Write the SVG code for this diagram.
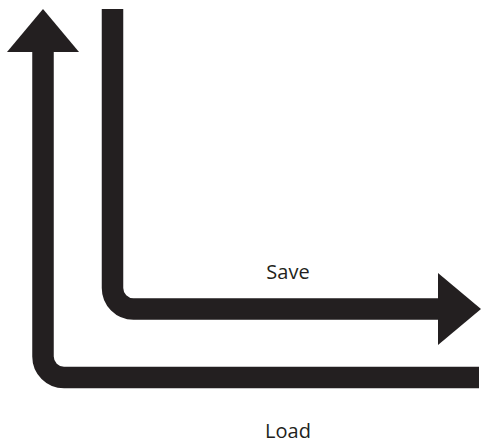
<svg xmlns="http://www.w3.org/2000/svg" width="484" height="443" viewBox="0 0 484 443">
<style>
.shaft{fill:none;stroke:#231f20;stroke-width:21.5}
.head{fill:#231f20}
.lbl{font-family:"Open Sans","Liberation Sans",sans-serif;font-size:20px;fill:#231f20;text-anchor:middle}
</style>
<rect width="484" height="443" fill="#fff"/>
<g id="connectors">
<g id="load">
<path class="shaft" d="M479,377.5 H64 A21,21 0 0 1 43,356.5 V50"/>
<polygon class="head" points="7,52 79,52 43,9"/>
</g>
<g id="save">
<path class="shaft" d="M112.5,9 V288 A21,21 0 0 0 133.5,309 H440"/>
<polygon class="head" points="438,273 438,345 481,309"/>
</g>
</g>
<g id="label-save"><text class="lbl" x="288" y="279">Save</text></g>
<g id="label-load"><text class="lbl" x="288" y="438">Load</text></g>
</svg>
